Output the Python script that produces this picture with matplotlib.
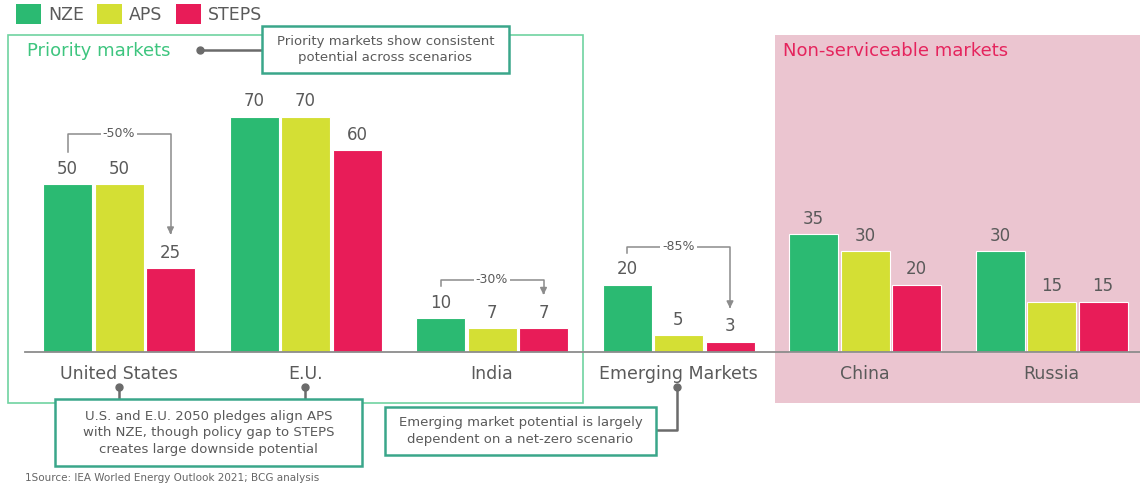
import numpy as np
import matplotlib.pyplot as plt
from matplotlib.patches import Rectangle

# data
markets = ['United States', 'E.U.', 'India', 'Emerging Markets', 'China', 'Russia']
series = ['NZE', 'APS', 'STEPS']
nze = [50, 70, 10, 20, 35, 30]
aps = [50, 70, 7, 5, 30, 15]
steps = [25, 60, 7, 3, 20, 15]
drops = {0: '-50%', 2: '-30%', 3: '-85%'}
bracket_top = {0: 65, 2: 21.5, 3: 31.3}

colors = ['#2bba72', '#d4df34', '#e81c58']
grey = '#5a5a5a'
line_grey = '#8c8c8c'
teal = '#3aa68a'

W, H = 1140, 486
fig = plt.figure(figsize=(W / 100, H / 100), dpi=100)
ax = fig.add_axes([0, 0, 1, 1])
ax.set_axis_off()

# pixel layout -> data limits
x0, step = 119, 186.5
y0, scale = 352, 3.36
ax.set_xlim(-x0 / step, (W - x0) / step)
ax.set_ylim((y0 - H) / scale, y0 / scale)


def px(x, y):
    return x / W, 1 - y / H


T = ax.transAxes

# background regions
ax.add_patch(Rectangle(px(775, 403), (W - 775) / W, (403 - 35) / H, transform=T,
                       facecolor='#ebc5d0', edgecolor='none', zorder=0))
ax.add_patch(Rectangle(px(8, 403), (583 - 8) / W, (403 - 35) / H, transform=T,
                       facecolor='none', edgecolor='#6fd3a1', lw=1.2, zorder=1))

# bars
x = np.arange(len(markets))
off, bw = 51.5 / step, 49 / step
for i, (vals, c) in enumerate(zip([nze, aps, steps], colors)):
    xs = x + (i - 1) * off
    ax.bar(xs, vals, width=bw, color=c, edgecolor='white', lw=0.8, zorder=3)
    for xi, v in zip(xs, vals):
        ax.text(xi, v + 4.6, str(v), ha='center', va='center', fontsize=12,
                color=grey, zorder=4)

# baseline + category labels
ax.plot([25 / step - x0 / step, (W - x0) / step], [0, 0], color=line_grey, lw=1.3, zorder=4)
for xi, m in zip(x, markets):
    ax.text(xi, -6.6, m, ha='center', va='center', fontsize=12.5, color=grey)

# drop brackets
for g, lab in drops.items():
    xl, xr = g - off, g + off
    top = bracket_top[g]
    ax.plot([xl, xl, xr, xr], [nze[g] + 9.5, top, top, steps[g] + 10.5],
            color=line_grey, lw=1.1, zorder=4)
    ax.annotate('', xy=(xr, steps[g] + 9.2), xytext=(xr, steps[g] + 11.5),
                arrowprops=dict(arrowstyle='-|>', color=line_grey, lw=1.1,
                                mutation_scale=10), zorder=4)
    ax.text(g, top, lab, ha='center', va='center', fontsize=9, color=grey,
            bbox=dict(facecolor='white', edgecolor='none', pad=1.5), zorder=5)

# legend
for i, (s, c, lx) in enumerate(zip(series, colors, [16, 97, 176])):
    ax.add_patch(Rectangle(px(lx, 24), 25 / W, 20 / H, transform=T, facecolor=c,
                           edgecolor='none'))
    ax.text(*px(lx + 32, 15), s, transform=T, ha='left', va='center',
            fontsize=12.5, color=grey)

# region titles
ax.text(*px(27, 51), 'Priority markets', transform=T, ha='left', va='center',
        fontsize=13, color='#3ec57f')
ax.text(*px(783, 51), 'Non-serviceable markets', transform=T, ha='left',
        va='center', fontsize=13, color='#e5245d')


def callout(x1, y1, x2, y2, text):
    ax.add_patch(Rectangle(px(x1, y2), (x2 - x1) / W, (y2 - y1) / H, transform=T,
                           facecolor='white', edgecolor=teal, lw=1.8, zorder=6))
    ax.text(*px((x1 + x2) / 2, (y1 + y2) / 2), text, transform=T, ha='center',
            va='center', fontsize=9.5, color=grey, linespacing=1.35, zorder=7)


def connector(pts):
    xs, ys = zip(*[px(a, b) for a, b in pts])
    ax.plot(xs, ys, transform=T, color='#6b6b6b', lw=1.8, zorder=5)
    ax.plot(xs[0], ys[0], 'o', transform=T, color='#6b6b6b', ms=5, zorder=5)


connector([(200, 50), (262, 50)])
callout(262, 26, 509, 73, 'Priority markets show consistent\npotential across scenarios')

connector([(119, 387), (119, 399)])
connector([(305, 387), (305, 399)])
callout(55, 399, 362, 466, 'U.S. and E.U. 2050 pledges align APS\n'
        'with NZE, though policy gap to STEPS\ncreates large downside potential')

connector([(677, 387), (677, 430), (656, 430)])
callout(385, 407, 656, 455, 'Emerging market potential is largely\n'
        'dependent on a net-zero scenario')

ax.text(*px(25, 478), '1Source: IEA Worled Energy Outlook 2021; BCG analysis',
        transform=T, ha='left', va='center', fontsize=7.5, color='#666666')

plt.savefig('out.png', dpi=100)
